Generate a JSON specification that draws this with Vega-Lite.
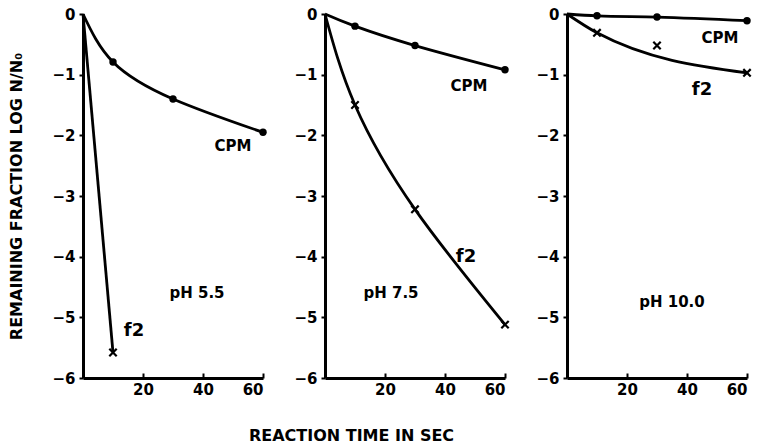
{
  "$schema": "https://vega.github.io/schema/vega-lite/v6.json",
  "background": "white",
  "padding": {"left": 8, "top": 7, "right": 5, "bottom": 5},
  "datasets": {
    "d": [
      {"pH": "5.5", "kind": "obs", "series": "CPM", "t": 0, "logN": 0, "curve": true},
      {"pH": "5.5", "kind": "obs", "series": "CPM", "t": 10, "logN": -0.79, "curve": true},
      {"pH": "5.5", "kind": "obs", "series": "CPM", "t": 30, "logN": -1.4, "curve": true},
      {"pH": "5.5", "kind": "obs", "series": "CPM", "t": 60, "logN": -1.95, "curve": true},
      {"pH": "5.5", "kind": "obs", "series": "f2", "t": 0, "logN": 0, "curve": true},
      {"pH": "5.5", "kind": "obs", "series": "f2", "t": 10, "logN": -5.58, "curve": true},
      {"pH": "7.5", "kind": "obs", "series": "CPM", "t": 0, "logN": 0, "curve": true},
      {"pH": "7.5", "kind": "obs", "series": "CPM", "t": 10, "logN": -0.2, "curve": true},
      {"pH": "7.5", "kind": "obs", "series": "CPM", "t": 30, "logN": -0.52, "curve": true},
      {"pH": "7.5", "kind": "obs", "series": "CPM", "t": 60, "logN": -0.92, "curve": true},
      {"pH": "7.5", "kind": "obs", "series": "f2", "t": 0, "logN": 0, "curve": true},
      {"pH": "7.5", "kind": "obs", "series": "f2", "t": 10, "logN": -1.5, "curve": true},
      {"pH": "7.5", "kind": "obs", "series": "f2", "t": 30, "logN": -3.22, "curve": true},
      {"pH": "7.5", "kind": "obs", "series": "f2", "t": 60, "logN": -5.12, "curve": true},
      {"pH": "10.0", "kind": "obs", "series": "CPM", "t": 0, "logN": 0, "curve": true},
      {"pH": "10.0", "kind": "obs", "series": "CPM", "t": 10, "logN": -0.03, "curve": true},
      {"pH": "10.0", "kind": "obs", "series": "CPM", "t": 30, "logN": -0.05, "curve": true},
      {"pH": "10.0", "kind": "obs", "series": "CPM", "t": 60, "logN": -0.11, "curve": true},
      {"pH": "10.0", "kind": "obs", "series": "f2", "t": 0, "logN": 0, "curve": true},
      {"pH": "10.0", "kind": "obs", "series": "f2", "t": 10, "logN": -0.31, "curve": true},
      {"pH": "10.0", "kind": "obs", "series": "f2", "t": 30, "logN": -0.52, "curve": false},
      {"pH": "10.0", "kind": "obs", "series": "f2", "t": 60, "logN": -0.97, "curve": true},
      {"pH": "5.5", "kind": "label", "text": "CPM", "size": "s", "t": 50, "logN": -2.17},
      {"pH": "5.5", "kind": "label", "text": "f2", "size": "l", "t": 17, "logN": -5.23},
      {"pH": "5.5", "kind": "label", "text": "pH 5.5", "size": "s", "t": 38, "logN": -4.6},
      {"pH": "7.5", "kind": "label", "text": "CPM", "size": "s", "t": 48, "logN": -1.18},
      {"pH": "7.5", "kind": "label", "text": "f2", "size": "l", "t": 47, "logN": -4.0},
      {"pH": "7.5", "kind": "label", "text": "pH 7.5", "size": "s", "t": 22, "logN": -4.6},
      {"pH": "10.0", "kind": "label", "text": "CPM", "size": "s", "t": 51, "logN": -0.4},
      {"pH": "10.0", "kind": "label", "text": "f2", "size": "l", "t": 45, "logN": -1.25},
      {"pH": "10.0", "kind": "label", "text": "pH 10.0", "size": "s", "t": 35, "logN": -4.75}
    ]
  },
  "data": {"name": "d"},
  "config": {
    "view": {"stroke": null},
    "font": "DejaVu Sans",
    "axis": {
      "domainColor": "black", "domainWidth": 3, "tickColor": "black", "tickWidth": 2,
      "labelColor": "black", "labelFont": "DejaVu Sans", "labelFontWeight": "bold", "labelFontSize": 15,
      "grid": false, "titleColor": "black", "titleFont": "DejaVu Sans", "titleFontWeight": "bold", "titleFontSize": 16
    }
  },
  "bounds": "flush",
  "spacing": 62,
  "hconcat": [
    {
      "width": 180, "height": 364,
      "transform": [{"filter": "datum.pH === '5.5'"}],
      "encoding": {
        "x": {"field": "t", "type": "quantitative", "scale": {"domain": [0, 60], "nice": false},
              "axis": {"title": null, "values": [20, 40, 60], "tickSize": -5, "labelPadding": 9}},
        "y": {"field": "logN", "type": "quantitative", "scale": {"domain": [-6, 0], "nice": false},
              "axis": {"title": "REMAINING FRACTION LOG N/N₀", "values": [0, -1, -2, -3, -4, -5, -6], "tickSize": 4, "labelPadding": 4,
                       "titleX": -67, "titleY": 182, "titleAngle": -90, "titleAlign": "center", "titleBaseline": "middle"}}
      },
      "layer": [
        {"transform": [{"filter": "datum.kind === 'obs' && datum.curve"}],
         "mark": {"type": "line", "interpolate": "natural", "color": "black", "strokeWidth": 2.8, "clip": false},
         "encoding": {"detail": {"field": "series"}}},
        {"transform": [{"filter": "datum.kind === 'obs' && datum.series === 'CPM' && datum.t > 0"}],
         "mark": {"type": "point", "shape": "circle", "filled": true, "color": "black", "size": 55, "opacity": 1}},
        {"transform": [{"filter": "datum.kind === 'obs' && datum.series === 'f2' && datum.t > 0"}],
         "mark": {"type": "point", "shape": "M-1,-1L1,1M-1,1L1,-1", "filled": false, "color": "black", "strokeWidth": 2.2, "size": 55, "opacity": 1}},
        {"transform": [{"filter": "datum.kind === 'label'"}],
         "mark": {"type": "text", "color": "black", "fontWeight": "bold", "font": "DejaVu Sans"},
         "encoding": {"text": {"field": "text"},
                      "size": {"field": "size", "type": "nominal", "scale": {"domain": ["s", "l"], "range": [15, 18]}, "legend": null}}}
      ]
    },
    {
      "width": 180, "height": 364,
      "transform": [{"filter": "datum.pH === '7.5'"}],
      "encoding": {
        "x": {"field": "t", "type": "quantitative", "scale": {"domain": [0, 60], "nice": false},
              "axis": {"title": "REACTION TIME IN SEC", "values": [20, 40, 60], "tickSize": -5, "labelPadding": 9,
                       "titleX": 26, "titleY": 57, "titleAlign": "center", "titleBaseline": "middle"}},
        "y": {"field": "logN", "type": "quantitative", "scale": {"domain": [-6, 0], "nice": false},
              "axis": {"title": null, "values": [0, -1, -2, -3, -4, -5, -6], "tickSize": 4, "labelPadding": 4}}
      },
      "layer": [
        {"transform": [{"filter": "datum.kind === 'obs' && datum.curve"}],
         "mark": {"type": "line", "interpolate": "natural", "color": "black", "strokeWidth": 2.8, "clip": false},
         "encoding": {"detail": {"field": "series"}}},
        {"transform": [{"filter": "datum.kind === 'obs' && datum.series === 'CPM' && datum.t > 0"}],
         "mark": {"type": "point", "shape": "circle", "filled": true, "color": "black", "size": 55, "opacity": 1}},
        {"transform": [{"filter": "datum.kind === 'obs' && datum.series === 'f2' && datum.t > 0"}],
         "mark": {"type": "point", "shape": "M-1,-1L1,1M-1,1L1,-1", "filled": false, "color": "black", "strokeWidth": 2.2, "size": 55, "opacity": 1}},
        {"transform": [{"filter": "datum.kind === 'label'"}],
         "mark": {"type": "text", "color": "black", "fontWeight": "bold", "font": "DejaVu Sans"},
         "encoding": {"text": {"field": "text"},
                      "size": {"field": "size", "type": "nominal", "scale": {"domain": ["s", "l"], "range": [15, 18]}, "legend": null}}}
      ]
    },
    {
      "width": 180, "height": 364,
      "transform": [{"filter": "datum.pH === '10.0'"}],
      "encoding": {
        "x": {"field": "t", "type": "quantitative", "scale": {"domain": [0, 60], "nice": false},
              "axis": {"title": null, "values": [20, 40, 60], "tickSize": -5, "labelPadding": 9}},
        "y": {"field": "logN", "type": "quantitative", "scale": {"domain": [-6, 0], "nice": false},
              "axis": {"title": null, "values": [0, -1, -2, -3, -4, -5, -6], "tickSize": 4, "labelPadding": 4}}
      },
      "layer": [
        {"transform": [{"filter": "datum.kind === 'obs' && datum.curve"}],
         "mark": {"type": "line", "interpolate": "monotone", "color": "black", "strokeWidth": 2.8, "clip": false},
         "encoding": {"detail": {"field": "series"}}},
        {"transform": [{"filter": "datum.kind === 'obs' && datum.series === 'CPM' && datum.t > 0"}],
         "mark": {"type": "point", "shape": "circle", "filled": true, "color": "black", "size": 55, "opacity": 1}},
        {"transform": [{"filter": "datum.kind === 'obs' && datum.series === 'f2' && datum.t > 0"}],
         "mark": {"type": "point", "shape": "M-1,-1L1,1M-1,1L1,-1", "filled": false, "color": "black", "strokeWidth": 2.2, "size": 55, "opacity": 1}},
        {"transform": [{"filter": "datum.kind === 'label'"}],
         "mark": {"type": "text", "color": "black", "fontWeight": "bold", "font": "DejaVu Sans"},
         "encoding": {"text": {"field": "text"},
                      "size": {"field": "size", "type": "nominal", "scale": {"domain": ["s", "l"], "range": [15, 18]}, "legend": null}}}
      ]
    }
  ]
}
